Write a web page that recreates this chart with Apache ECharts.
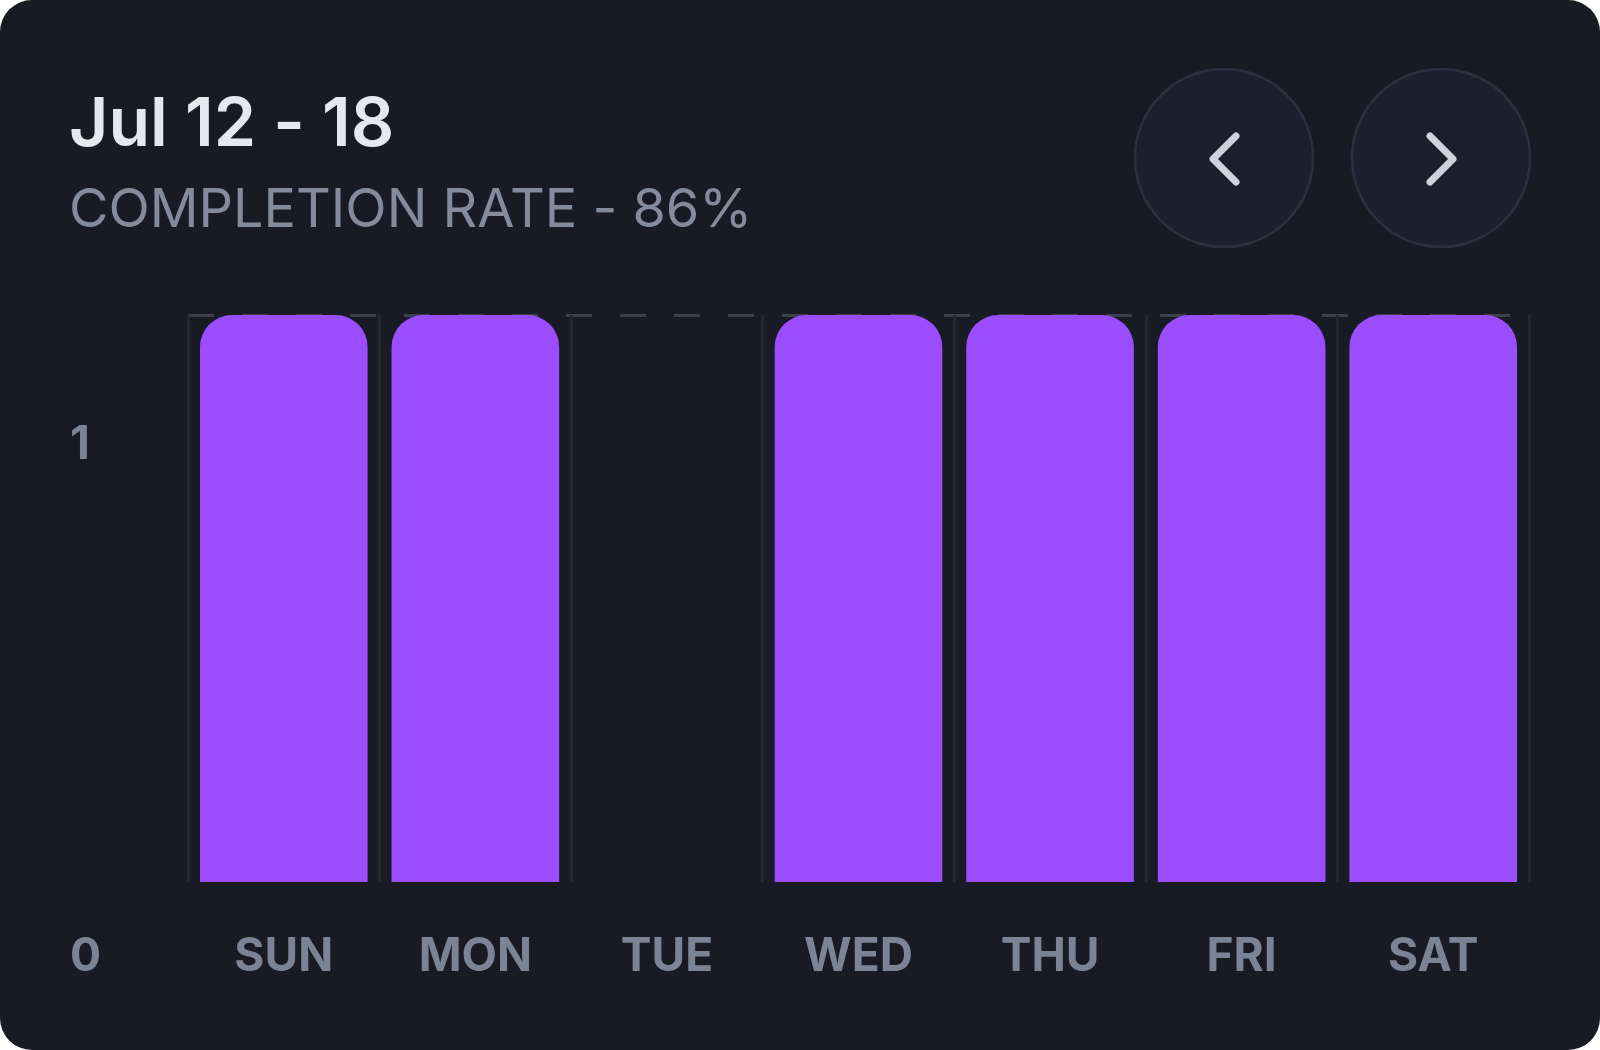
<!DOCTYPE html>
<html>
<head>
<meta charset="utf-8">
<script src="https://cdn.jsdelivr.net/npm/echarts@6/dist/echarts.min.js"></script>
<style>
  html, body { margin: 0; padding: 0; background: #ffffff; }
  #card {
    width: 1600px; height: 1050px;
    border-radius: 32px; overflow: hidden;
    background: #181b24;
  }
  #main { width: 1600px; height: 1050px; }
</style>
</head>
<body>
<div id="card"><div id="main"></div></div>
<script>
// 数据
var days = ['SUN', 'MON', 'TUE', 'WED', 'THU', 'FRI', 'SAT'];
var done = [1, 1, 0, 1, 1, 1, 1];
var yTicks = [0, 1];
var titleText = 'Jul 12 - 18';
var subText = 'COMPLETION RATE - 86%';

var purple = '#9b4dff';
var labelGrey = '#7b8494';
var font = 'Inter, "Noto Sans", sans-serif';

var myChart = echarts.init(document.getElementById('main'), null, { renderer: 'canvas' });

myChart.setOption({
    backgroundColor: 'transparent',
    animation: false,
    title: [
        { text: titleText, left: 64, top: 87,
          textStyle: { color: '#e4e8ef', fontFamily: font, fontWeight: 600, fontSize: 68, lineHeight: 68 } },
        { text: subText, left: 64, top: 179,
          textStyle: { color: '#848c9b', fontFamily: font, fontWeight: 400, fontSize: 54, lineHeight: 54 } }
    ],
    grid: [
        { left: 188, right: 71, top: 315, bottom: 168 },
        { left: 110, width: 10, top: 445, bottom: 93 }
    ],
    xAxis: [
        {
            gridIndex: 0, type: 'category', data: days,
            axisLine: { show: false }, axisTick: { show: false },
            splitLine: { show: true, lineStyle: { color: '#232731', width: 3 } },
            axisLabel: { color: labelGrey, fontFamily: font, fontWeight: 700, fontSize: 46,
                         margin: 75, verticalAlign: 'middle' }
        },
        { gridIndex: 1, type: 'value', show: false }
    ],
    yAxis: [
        {
            gridIndex: 0, type: 'value', min: 0, max: 1, interval: 1,
            axisLabel: { show: false }, axisLine: { show: false }, axisTick: { show: false },
            splitLine: { show: true, showMinLine: false,
                         lineStyle: { color: '#3c404b', width: 3, type: [26, 28] } }
        },
        {
            gridIndex: 1, type: 'value', min: yTicks[0], max: yTicks[1], interval: 1,
            axisLine: { show: false }, axisTick: { show: false }, splitLine: { show: false },
            axisLabel: { color: labelGrey, fontFamily: font, fontWeight: 700, fontSize: 46,
                         margin: 40, align: 'left' }
        }
    ],
    series: [{
        type: 'bar',
        xAxisIndex: 0, yAxisIndex: 0,
        data: done,
        barCategoryGap: '12.5%',
        itemStyle: { color: purple, borderRadius: [32, 32, 0, 0] }
    }],
    // 翻页按钮
    graphic: [
        { type: 'circle', shape: { cx: 1224, cy: 158, r: 89 },
          style: { fill: '#1d202c', stroke: '#2c2f3d', lineWidth: 2.5 } },
        { type: 'circle', shape: { cx: 1441, cy: 158, r: 89 },
          style: { fill: '#1d202c', stroke: '#2c2f3d', lineWidth: 2.5 } },
        { type: 'polyline', shape: { points: [[1236, 136], [1213, 159], [1236, 182]] },
          style: { stroke: '#cfd3dc', lineWidth: 7, lineCap: 'round', lineJoin: 'round', fill: null } },
        { type: 'polyline', shape: { points: [[1430, 136], [1453, 159], [1430, 182]] },
          style: { stroke: '#cfd3dc', lineWidth: 7, lineCap: 'round', lineJoin: 'round', fill: null } }
    ]
});
</script>
</body>
</html>
